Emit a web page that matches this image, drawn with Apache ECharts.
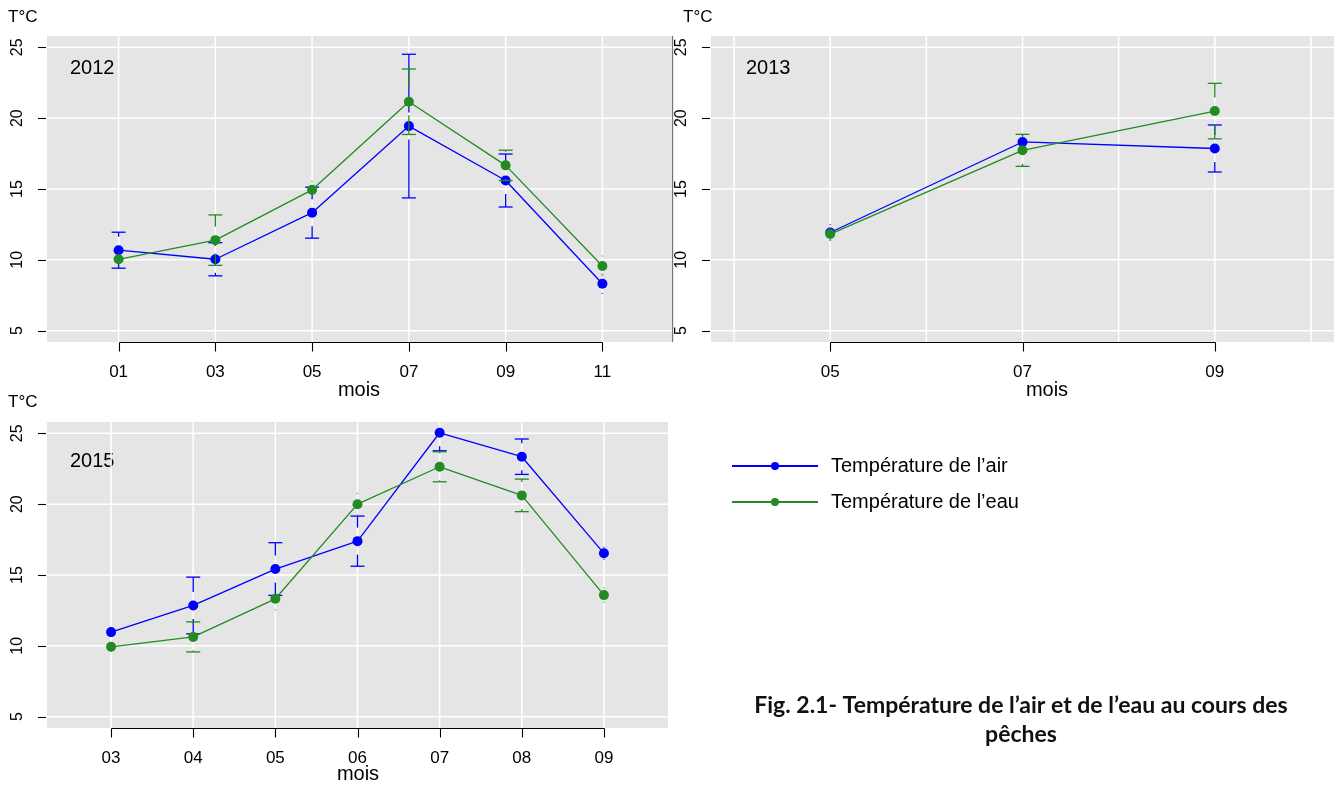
<!DOCTYPE html>
<html><head><meta charset="utf-8">
<script src="https://cdn.jsdelivr.net/npm/echarts@6/dist/echarts.min.js"></script>
<style>html,body{margin:0;padding:0;background:#fff}#c{width:1343px;height:785px}</style>
</head><body><div id="c"></div>
<script>
// ---------- data ----------
const AIR = 'Température de l’air';
const EAU = 'Température de l’eau';
const yTicks = [5, 10, 15, 20, 25];

const months2012 = [1, 3, 5, 7, 9, 11];
const ticks2012 = [1, 3, 5, 7, 9, 11];
const tickLabels2012 = ['01', '03', '05', '07', '09', '11'];
const vgrid2012 = [1, 3, 5, 7, 9, 11];
const air2012 = [10.68, 10.04, 13.33, 19.44, 15.60, 8.31];
const airSd2012 = [1.27, 1.17, 1.80, 5.07, 1.87, 0.68];
const eau2012 = [10.04, 11.39, 14.94, 21.16, 16.67, 9.57];
const eauSd2012 = [0.45, 1.78, 0.60, 2.31, 1.07, 0.70];

const months2013 = [5, 7, 9];
const ticks2013 = [5, 7, 9];
const tickLabels2013 = ['05', '07', '09'];
const vgrid2013 = [4, 5, 6, 7, 8, 9, 10];
const air2013 = [11.93, 18.32, 17.86];
const airSd2013 = [0.55, 0.50, 1.66];
const eau2013 = [11.82, 17.73, 20.50];
const eauSd2013 = [0.40, 1.13, 1.96];

const months2015 = [3, 4, 5, 6, 7, 8, 9];
const ticks2015 = [3, 4, 5, 6, 7, 8, 9];
const tickLabels2015 = ['03', '04', '05', '06', '07', '08', '09'];
const vgrid2015 = [3, 4, 5, 6, 7, 8, 9];
const air2015 = [10.97, 12.85, 15.42, 17.39, 25.04, 23.35, 16.53];
const airSd2015 = [0.30, 2.00, 1.86, 1.77, 1.27, 1.25, 0.42];
const eau2015 = [9.93, 10.63, 13.32, 20.00, 22.64, 20.62, 13.58];
const eauSd2015 = [0.30, 1.06, 0.78, 0.76, 1.06, 1.15, 0.50];

// ---------- layout ----------
const FONT = '"Liberation Sans", Arial, sans-serif';
const BLUE = '#0000FF', GREEN = '#228B22';
const layout = [
  { left: 47, top: 36, width: 627, height: 306, xMin: -0.48, xMax: 12.48, rightBorder: true },
  { left: 711, top: 36, width: 623, height: 306, xMin: 3.76, xMax: 10.24, rightBorder: false },
  { left: 47, top: 422, width: 621, height: 306, xMin: 2.22, xMax: 9.78, rightBorder: false }
];
const Y_MIN = 4.2, Y_MAX = 25.8;

const panels = [
  { months: months2012, ticks: ticks2012, labels: tickLabels2012, vgrid: vgrid2012, air: air2012, airSd: airSd2012, eau: eau2012, eauSd: eauSd2012 },
  { months: months2013, ticks: ticks2013, labels: tickLabels2013, vgrid: vgrid2013, air: air2013, airSd: airSd2013, eau: eau2013, eauSd: eauSd2013 },
  { months: months2015, ticks: ticks2015, labels: tickLabels2015, vgrid: vgrid2015, air: air2015, airSd: airSd2015, eau: eau2015, eauSd: eauSd2015 }
];

function frameRenderer(p, L) {
  return function (params, api) {
    const ch = [];
    const tl = api.coord([L.xMin, Y_MAX]);
    const br = api.coord([L.xMax, Y_MIN]);
    const W = { stroke: '#FFFFFF', lineWidth: 1.5 };
    const K = { stroke: '#000', lineWidth: 1.1 };
    yTicks.forEach(v => {
      const a = api.coord([L.xMin, v]);
      ch.push({ type: 'line', shape: { x1: tl[0], y1: a[1], x2: br[0], y2: a[1] }, style: W });
      const yy = Math.round(a[1]) + 0.5;
      ch.push({ type: 'line', shape: { x1: tl[0] - 9, y1: yy, x2: tl[0] - 1, y2: yy }, style: K });
    });
    p.vgrid.forEach(v => {
      const a = api.coord([v, Y_MIN]);
      ch.push({ type: 'line', shape: { x1: a[0], y1: tl[1], x2: a[0], y2: br[1] }, style: W });
    });
    const a0 = api.coord([p.ticks[0], Y_MIN]);
    const a1 = api.coord([p.ticks[p.ticks.length - 1], Y_MIN]);
    const yy = Math.round(a0[1]) + 0.5;
    ch.push({ type: 'line', shape: { x1: Math.round(a0[0]) + 0.5, y1: yy, x2: Math.round(a1[0]) + 0.5, y2: yy }, style: K });
    p.ticks.forEach(v => {
      const a = api.coord([v, Y_MIN]);
      const xx = Math.round(a[0]) + 0.5;
      ch.push({ type: 'line', shape: { x1: xx, y1: yy, x2: xx, y2: yy + 9 }, style: K });
    });
    if (L.rightBorder) {
      const x = Math.round(br[0]) - 1.5;
      ch.push({ type: 'line', shape: { x1: x, y1: tl[1], x2: x, y2: br[1] }, style: { stroke: '#777', lineWidth: 1 } });
    }
    return { type: 'group', children: ch };
  };
}

function errRenderer(color) {
  return function (params, api) {
    const x = api.value(0), m = api.value(1), s = api.value(2);
    const c = api.coord([x, m]);
    const t = api.coord([x, m + s]);
    const b = api.coord([x, m - s]);
    const GAP = 13.5, CAP = 7;
    const st = { stroke: color, lineWidth: 1.3 };
    const ch = [];
    [[t, -1], [b, 1]].forEach(([e, dir]) => {
      const d = Math.abs(e[1] - c[1]);
      if (d > GAP) {
        ch.push({ type: 'line', shape: { x1: c[0], y1: e[1], x2: c[0], y2: c[1] + dir * GAP }, style: st });
        ch.push({ type: 'line', shape: { x1: c[0] - CAP, y1: e[1], x2: c[0] + CAP, y2: e[1] }, style: st });
      } else {
        ch.push({ type: 'line', shape: { x1: c[0] - 1, y1: e[1], x2: c[0] + 1, y2: e[1] }, style: { stroke: color, lineWidth: 1, opacity: 0.6 } });
      }
    });
    return { type: 'group', children: ch };
  };
}

const grids = [], xAxes = [], yAxes = [], series = [];
panels.forEach((p, i) => {
  const L = layout[i];
  grids.push({ left: L.left, top: L.top, width: L.width, height: L.height, show: true, backgroundColor: '#E5E5E5', borderWidth: 0, containLabel: false, outerBoundsMode: 'none' });
  xAxes.push({
    gridIndex: i, type: 'value', min: L.xMin, max: L.xMax,
    axisLine: { show: false }, splitLine: { show: false }, axisTick: { show: false },
    axisLabel: { customValues: p.ticks, margin: 22, fontSize: 17, color: '#000', fontFamily: FONT,
      formatter: v => { const k = p.ticks.indexOf(v); return k >= 0 ? p.labels[k] : ''; } }
  });
  yAxes.push({
    gridIndex: i, type: 'value', min: Y_MIN, max: Y_MAX,
    axisLine: { show: false }, splitLine: { show: false }, axisTick: { show: false },
    axisLabel: { customValues: yTicks, rotate: 90, margin: 21, fontSize: 16, color: '#000', fontFamily: FONT }
  });
  series.push({
    type: 'custom', xAxisIndex: i, yAxisIndex: i, z: 1, silent: true, clip: false,
    data: [[L.xMin, Y_MIN]], encode: { x: 0, y: 1 }, renderItem: frameRenderer(p, L)
  });
  series.push({
    type: 'line', name: AIR, xAxisIndex: i, yAxisIndex: i, z: 3,
    data: p.months.map((m, k) => [m, p.air[k]]),
    symbol: 'circle', symbolSize: 10, showSymbol: true,
    lineStyle: { color: BLUE, width: 1.3 }, itemStyle: { color: BLUE },
    emphasis: { disabled: true }, animation: false
  });
  series.push({
    type: 'custom', xAxisIndex: i, yAxisIndex: i, z: 3, silent: true, clip: true,
    data: p.months.map((m, k) => [m, p.air[k], p.airSd[k]]), encode: { x: 0, y: 1 },
    renderItem: errRenderer(BLUE)
  });
  series.push({
    type: 'line', name: EAU, xAxisIndex: i, yAxisIndex: i, z: 5,
    data: p.months.map((m, k) => [m, p.eau[k]]),
    symbol: 'circle', symbolSize: 10, showSymbol: true,
    lineStyle: { color: GREEN, width: 1.3 }, itemStyle: { color: GREEN },
    emphasis: { disabled: true }, animation: false
  });
  series.push({
    type: 'custom', xAxisIndex: i, yAxisIndex: i, z: 5, silent: true, clip: true,
    data: p.months.map((m, k) => [m, p.eau[k], p.eauSd[k]]), encode: { x: 0, y: 1 },
    renderItem: errRenderer(GREEN)
  });
});

function txt(text, x, y, size, opts) {
  return Object.assign({ type: 'text', x: x, y: y, silent: true,
    style: Object.assign({ text: text, font: size + 'px ' + FONT, fill: '#000', textAlign: 'left', textVerticalAlign: 'middle' }, opts || {}) });
}

const CAPFONT = 'bold 23px Lato, "Open Sans", sans-serif';
const graphics = [
  txt('T°C', 8, 17, 17), txt('T°C', 683, 17, 17), txt('T°C', 8, 402, 17),
  txt('2012', 70, 68, 20), txt('2013', 746, 68, 20), txt('2015', 70, 461, 20),
  txt('mois', 359, 390, 20, { textAlign: 'center' }),
  txt('mois', 1047, 390, 20, { textAlign: 'center' }),
  txt('mois', 358, 774, 20, { textAlign: 'center' }),
  { type: 'text', x: 1021, y: 706, silent: true, style: { text: 'Fig. 2.1- Température de l’air et de l’eau au cours des', font: CAPFONT, fill: '#111', textAlign: 'center', textVerticalAlign: 'middle' } },
  { type: 'text', x: 1021, y: 735, silent: true, style: { text: 'pêches', font: CAPFONT, fill: '#111', textAlign: 'center', textVerticalAlign: 'middle' } }
];

const chart = echarts.init(document.getElementById('c'), null, { renderer: 'canvas' });
chart.setOption({
  animation: false,
  backgroundColor: '#FFFFFF',
  grid: grids, xAxis: xAxes, yAxis: yAxes, series: series,
  legend: {
    data: [AIR, EAU], orient: 'vertical', left: 731, top: 456, padding: 0,
    itemWidth: 86, itemHeight: 10, itemGap: 16, selectedMode: false,
    textStyle: { fontSize: 20, fontFamily: FONT, color: '#000', padding: [0, 0, 0, 8] }
  },
  graphic: graphics
});
</script></body></html>
